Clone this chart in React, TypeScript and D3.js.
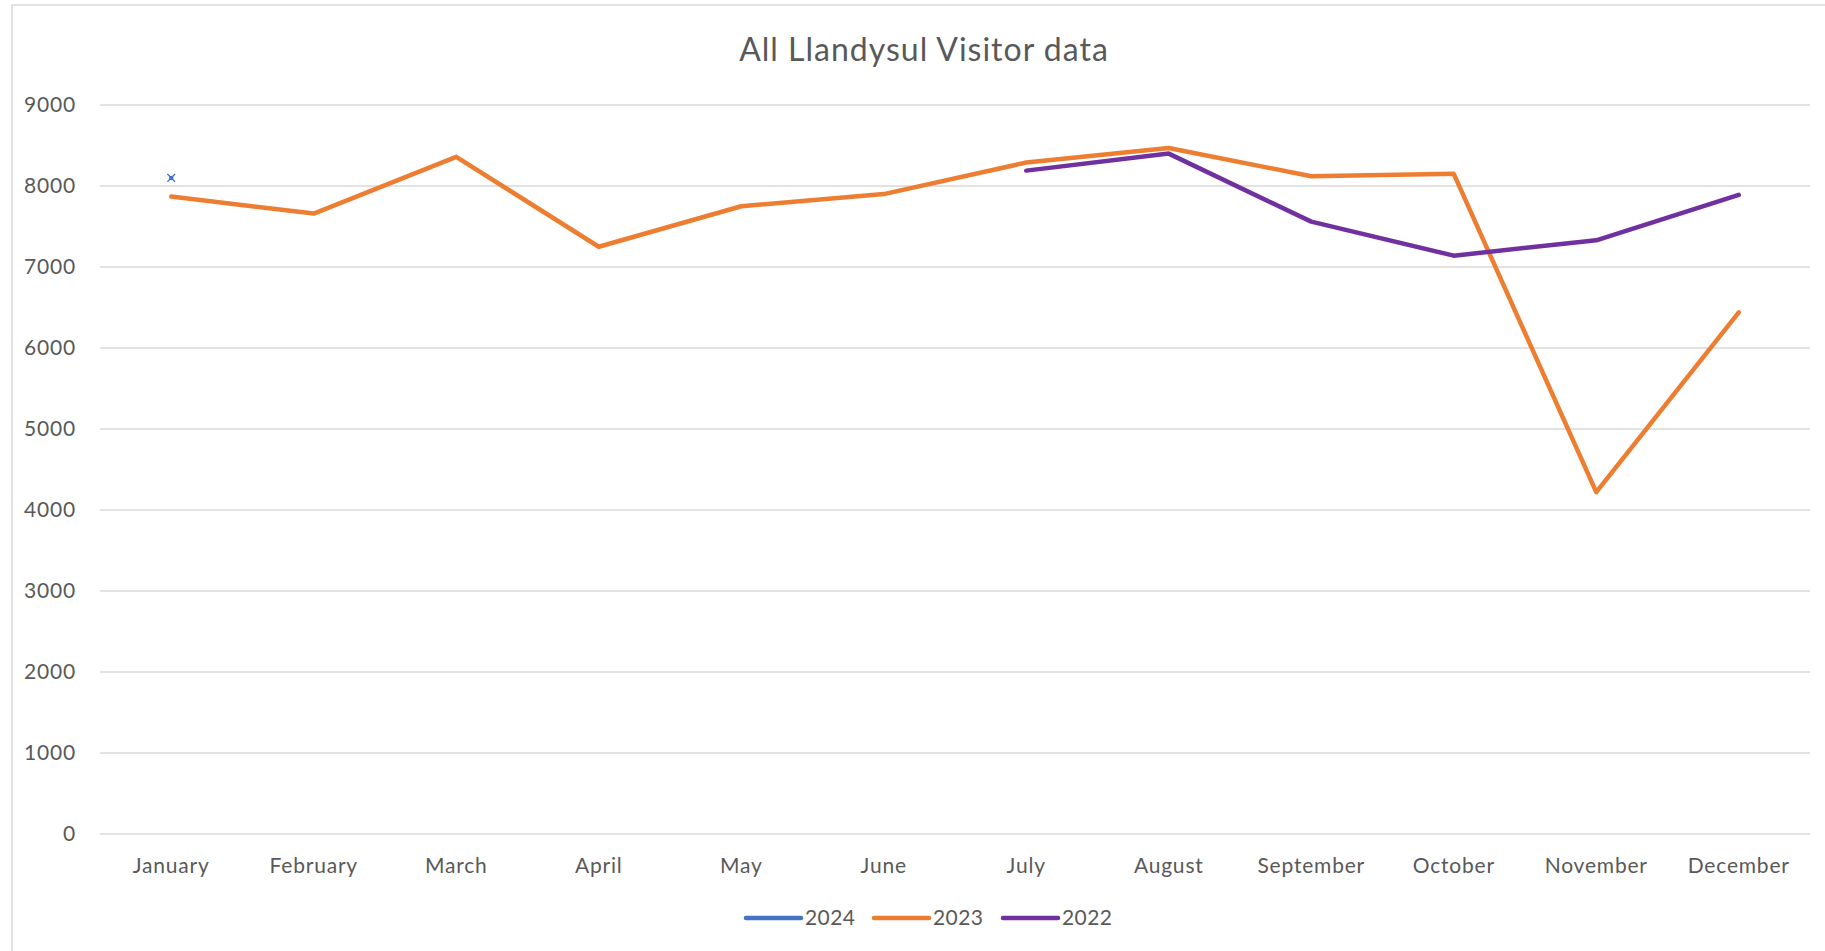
import React from 'react';
import * as d3 from 'd3';

const months = ['January', 'February', 'March', 'April', 'May', 'June', 'July', 'August', 'September', 'October', 'November', 'December'];
const yTicks = [0, 1000, 2000, 3000, 4000, 5000, 6000, 7000, 8000, 9000];

// null = no value for that month
const visitors2024: (number | null)[] = [8100, null, null, null, null, null, null, null, null, null, null, null];
const visitors2023: (number | null)[] = [7870, 7660, 8360, 7250, 7750, 7900, 8290, 8470, 8120, 8150, 4220, 6440];
const visitors2022: (number | null)[] = [null, null, null, null, null, null, 8190, 8400, 7560, 7140, 7330, 7890];

const seriesNames = ['2024', '2023', '2022'];
const seriesColors = ['#4472C4', '#ED7D31', '#7030A0'];

const W = 1825;
const H = 951;
const font = 'Lato, "Open Sans", sans-serif';
const textColor = '#595959';

const App: React.FC = () => {
  const x = d3.scalePoint<string>().domain(months).range([100, 1810]).padding(0.5);
  const y = d3.scaleLinear().domain([0, 9000]).range([834, 105]);

  const line = d3.line<number | null>()
    .defined(d => d !== null)
    .x((_, i) => x(months[i]) as number)
    .y(d => y(d as number));

  const series = [visitors2024, visitors2023, visitors2022];
  const xMark = d3.symbol().type(d3.symbolX).size(40)();

  const legendX = [746, 874, 1003];

  return (
    <svg width={W} height={H} style={{ position: 'absolute', left: 0, top: 0 }} fontFamily={font}>
      <rect x={0} y={0} width={W} height={H} fill="#fff" />
      <rect x={12} y={5} width={W + 20} height={H + 20} fill="#fff" stroke="#d9d9d9" strokeWidth={1.5} />

      <text x={924} y={61} textAnchor="middle" fontSize={32} letterSpacing={1} fill={textColor}>All Llandysul Visitor data</text>

      {/* gridlines + y labels */}
      {yTicks.map(t => (
        <g key={t}>
          <line x1={100} x2={1810} y1={y(t)} y2={y(t)} stroke="#d9d9d9" strokeWidth={1.3} />
          <text x={76} y={y(t)} dy="0.35em" textAnchor="end" fontSize={21} letterSpacing={0.8} fill={textColor}>{t}</text>
        </g>
      ))}

      {/* x labels */}
      {months.map(m => (
        <text key={m} x={x(m)} y={873} textAnchor="middle" fontSize={21} letterSpacing={0.8} fill={textColor}>{m}</text>
      ))}

      {/* series */}
      {series.map((s, i) => (
        <path key={seriesNames[i]} d={line(s) || ''} fill="none" stroke={seriesColors[i]} strokeWidth={4.5} strokeLinejoin="round" strokeLinecap="round" />
      ))}

      {/* lone 2024 point */}
      {visitors2024.map((v, i) => v === null ? null : (
        <path key={i} d={xMark || ''} transform={`translate(${x(months[i])},${y(v)})`} fill="none" stroke={seriesColors[0]} strokeWidth={1.3} />
      ))}

      {/* legend */}
      {seriesNames.map((n, i) => (
        <g key={n} transform={`translate(${legendX[i]},918)`}>
          <line x1={0} x2={55} y1={0} y2={0} stroke={seriesColors[i]} strokeWidth={4.5} strokeLinecap="round" />
          <text x={59} y={0} dy="0.35em" fontSize={21} letterSpacing={0.4} fill={textColor}>{n}</text>
        </g>
      ))}
    </svg>
  );
};

export default App;
